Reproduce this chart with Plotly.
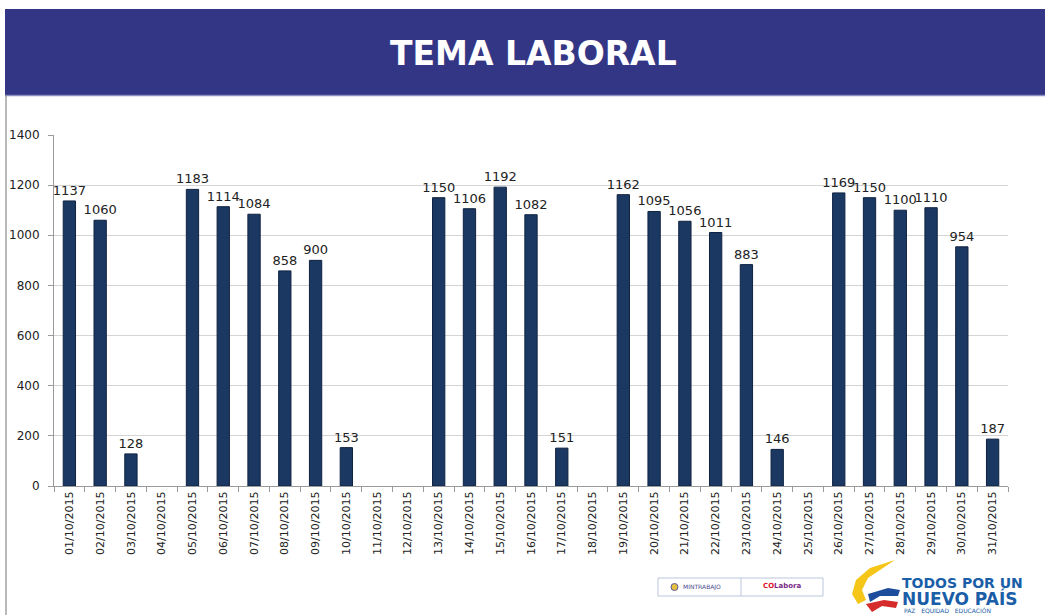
import plotly.graph_objects as go

dates = [f"{d:02d}/10/2015" for d in range(1, 32)]
values = [1137, 1060, 128, None, 1183, 1114, 1084, 858, 900, 153, None, None,
          1150, 1106, 1192, 1082, 151, None, 1162, 1095, 1056, 1011, 883, 146,
          None, 1169, 1150, 1100, 1110, 954, 187]
y_ticks = [0, 200, 400, 600, 800, 1000, 1200, 1400]
title_text = "TEMA LABORAL"

W, H = 1045, 615
L, R, T, B = 54, 1008, 135, 486


def px(x):
    return (x - L) / (R - L)


def py(y):
    return (B - y) / (B - T)


labels = ["" if v is None else str(v) for v in values]

fig = go.Figure()
fig.add_trace(go.Bar(
    x=dates, y=values,
    marker=dict(color="#1b3863", line=dict(color="#0f2240", width=1)),
    text=labels, textposition="outside", textangle=0,
    constraintext="none", cliponaxis=False,
    textfont=dict(family="DejaVu Sans", size=13, color="#222222"),
    hoverinfo="x+y",
))

shapes = []
# header band
shapes.append(dict(type="rect", xref="paper", yref="paper",
                   x0=px(5), x1=px(1046), y0=py(95), y1=py(9),
                   fillcolor="#333685", line=dict(width=0), layer="below"))
shapes.append(dict(type="line", xref="paper", yref="paper",
                   x0=px(5), x1=px(1046), y0=py(95.5), y1=py(95.5),
                   line=dict(color="#8c8cc4", width=1.5)))
# left border
shapes.append(dict(type="line", xref="paper", yref="paper",
                   x0=px(6), x1=px(6), y0=py(95), y1=py(615),
                   line=dict(color="#8a8a8a", width=1.2)))
# mintrabajo box
shapes.append(dict(type="rect", xref="paper", yref="paper",
                   x0=px(658), x1=px(823), y0=py(596), y1=py(578),
                   line=dict(color="#b9c7dc", width=1), fillcolor="white"))
shapes.append(dict(type="line", xref="paper", yref="paper",
                   x0=px(741), x1=px(741), y0=py(596), y1=py(578),
                   line=dict(color="#b9c7dc", width=1)))
shapes.append(dict(type="circle", xref="paper", yref="paper",
                   x0=px(671), x1=px(678), y0=py(590.5), y1=py(583.5),
                   line=dict(color="#5a5aa0", width=1), fillcolor="#e8c040"))


def path(points):
    s = "M " + " L ".join(f"{px(a):.5f},{py(b):.5f}" for a, b in points) + " Z"
    return s


# swoosh logo (simplified)
shapes.append(dict(type="path", xref="paper", yref="paper",
                   path=path([(895, 560), (870, 568), (856, 580), (852, 594), (858, 604),
                              (866, 600), (862, 590), (868, 578), (880, 570)]),
                   fillcolor="#f5c518", line=dict(width=0)))
shapes.append(dict(type="path", xref="paper", yref="paper",
                   path=path([(868, 594), (888, 588), (900, 590), (898, 596), (880, 596), (870, 602)]),
                   fillcolor="#1c4d9c", line=dict(width=0)))
shapes.append(dict(type="path", xref="paper", yref="paper",
                   path=path([(866, 604), (884, 600), (898, 602), (896, 608), (882, 606), (872, 612)]),
                   fillcolor="#d62b2b", line=dict(width=0)))

annotations = [
    dict(text=f"<b>{title_text}</b>", xref="paper", yref="paper",
         x=px(533), y=py(53), showarrow=False,
         font=dict(family="DejaVu Sans", size=33, color="white"),
         xanchor="center", yanchor="middle"),
    dict(text="MINTRABAJO", xref="paper", yref="paper", x=px(681), y=py(587),
         showarrow=False, xanchor="left", yanchor="middle",
         font=dict(family="DejaVu Sans", size=6, color="#4a4a8a")),
    dict(text="<b><span style='color:#e0162b'>CO</span>Labora</b>", xref="paper", yref="paper",
         x=px(782), y=py(586), showarrow=False, xanchor="center", yanchor="middle",
         font=dict(family="DejaVu Sans", size=7, color="#7a2a8a")),
    dict(text="<b>TODOS POR UN</b>", xref="paper", yref="paper", x=px(900), y=py(583),
         showarrow=False, xanchor="left", yanchor="middle",
         font=dict(family="DejaVu Sans", size=14, color="#1b5ea8")),
    dict(text="<b>NUEVO PAÍS</b>", xref="paper", yref="paper", x=px(900), y=py(598),
         showarrow=False, xanchor="left", yanchor="middle",
         font=dict(family="DejaVu Sans", size=17, color="#1b5ea8")),
    dict(text="PAZ   EQUIDAD   EDUCACIÓN", xref="paper", yref="paper", x=px(902), y=py(610),
         showarrow=False, xanchor="left", yanchor="middle",
         font=dict(family="DejaVu Sans", size=6, color="#1b5ea8")),
]

fig.update_layout(
    width=W, height=H,
    margin=dict(l=L, r=W - R, t=T, b=H - B, pad=0, autoexpand=False),
    paper_bgcolor="white", plot_bgcolor="white",
    showlegend=False, bargap=0.6,
    shapes=shapes, annotations=annotations,
    font=dict(family="DejaVu Sans", color="#222222"),
)
fig.update_yaxes(range=[0, 1400], tickvals=y_ticks, showgrid=True,
                 gridcolor="#d4d4d4", gridwidth=1.3, automargin=False,
                 showline=True, linecolor="#9a9a9a", linewidth=1,
                 ticks="outside", ticklen=5, tickcolor="#9a9a9a",
                 ticklabelstandoff=6,
                 tickfont=dict(family="DejaVu Sans", size=12, color="#222222"),
                 zeroline=False)
fig.update_xaxes(type="category", tickangle=-90, showline=True, automargin=False,
                 linecolor="#9a9a9a", linewidth=1.2,
                 ticks="outside", tickson="boundaries", ticklen=5, tickcolor="#9a9a9a",
                 tickfont=dict(family="DejaVu Sans", size=11, color="#222222"),
                 showgrid=False)

fig.write_html("out.html", config={"displayModeBar": False},
               post_script="document.body.style.margin='0';document.body.style.overflow='hidden';")
